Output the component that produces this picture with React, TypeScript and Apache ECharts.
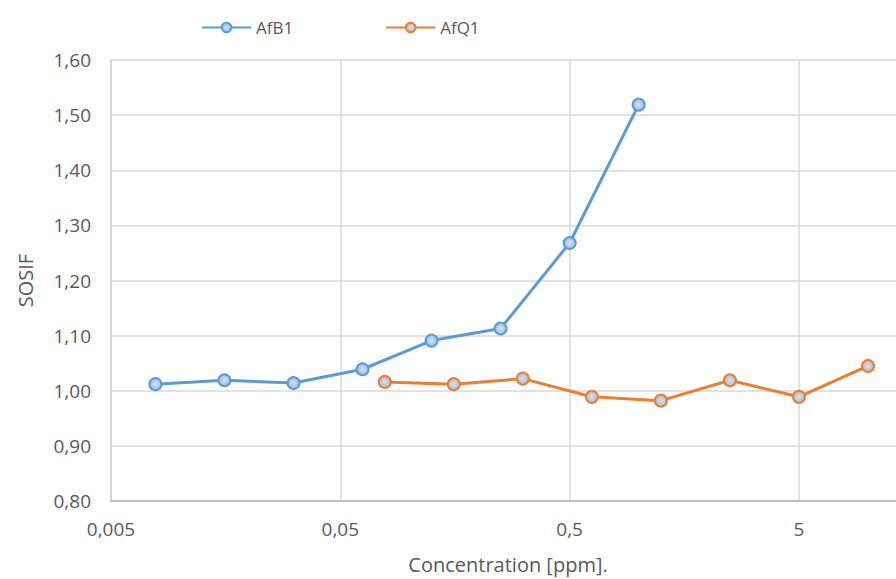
import React, { useEffect, useRef } from "react";
import * as echarts from "echarts";

// Concentration (ppm) and SOSIF values
const xAfB1 = [0.0078125, 0.015625, 0.03125, 0.0625, 0.125, 0.25, 0.5, 1];
const yAfB1 = [1.012, 1.019, 1.014, 1.039, 1.091, 1.113, 1.268, 1.519];
const xAfQ1 = [0.078125, 0.15625, 0.3125, 0.625, 1.25, 2.5, 5, 10];
const yAfQ1 = [1.016, 1.012, 1.022, 0.989, 0.982, 1.019, 0.989, 1.045];

// axis range: x starts at 0.005 ppm (log axis), y from 0.80 to 1.60
const X_ORIGIN = 0.005;
const X_END = 14.5;
const Y_MIN = 0.8;
const Y_MAX = 1.6;
const Y_STEP = 0.1;

const FONT = "'Open Sans', 'Noto Sans', sans-serif";
const TEXT = "#595959";

export default function App() {
  const ref = useRef<HTMLDivElement>(null);
  useEffect(() => {
    if (!ref.current) return;
    const chart = echarts.init(ref.current, undefined, { renderer: "svg" });
    // log axis counted in units of the origin so that decades fall on 0.005, 0.05, 0.5, 5
    const toAxis = (v: number) => v / X_ORIGIN;
    const blueMarker = new echarts.graphic.RadialGradient(0.5, 0.5, 0.6, [
      { offset: 0, color: "#D3E2F4" },
      { offset: 1, color: "#8EB4E2" },
    ]);
    const orangeMarker = new echarts.graphic.RadialGradient(0.5, 0.5, 0.6, [
      { offset: 0, color: "#D8E0EA" },
      { offset: 1, color: "#A7B3C2" },
    ]);
    chart.setOption({
      animation: false,
      backgroundColor: "#ffffff",
      textStyle: { fontFamily: FONT, color: TEXT },
      legend: {
        left: 196,
        top: 14,
        itemWidth: 49,
        itemHeight: 12,
        itemGap: 92,
        textStyle: { fontFamily: FONT, fontSize: 17, color: TEXT },
        data: ["AfB1", "AfQ1"],
      },
      grid: { left: 111, top: 60, right: 10, bottom: 78, containLabel: false },
      xAxis: {
        type: "log",
        logBase: 10,
        min: toAxis(X_ORIGIN),
        max: toAxis(X_END),
        name: "Concentration [ppm].",
        nameLocation: "middle",
        nameGap: 53,
        nameTextStyle: { fontFamily: FONT, fontSize: 20, color: TEXT },
        axisLine: { show: true, lineStyle: { color: "#BFBFBF", width: 2 } },
        axisTick: { show: false },
        splitLine: { show: true, lineStyle: { color: "#D9D9D9", width: 1.5 } },
        axisLabel: {
          fontFamily: FONT,
          fontSize: 19,
          color: TEXT,
          margin: 18,
          showMaxLabel: false,
          formatter: (v: number) => {
            const l = Math.log10(v);
            if (Math.abs(l - Math.round(l)) > 1e-6) return "";
            const real = Number((v * X_ORIGIN).toPrecision(6));
            return String(real).replace(".", ",");
          },
        },
      },
      yAxis: {
        type: "value",
        min: Y_MIN,
        max: Y_MAX,
        interval: Y_STEP,
        name: "SOSIF",
        nameLocation: "middle",
        nameGap: 76,
        nameTextStyle: { fontFamily: FONT, fontSize: 20, color: TEXT },
        axisLine: { show: true, lineStyle: { color: "#CFCFCF", width: 1.5 } },
        axisTick: { show: false },
        splitLine: { show: true, lineStyle: { color: "#D9D9D9", width: 1.5 } },
        axisLabel: {
          fontFamily: FONT,
          fontSize: 19,
          color: TEXT,
          margin: 20,
          formatter: (v: number) => v.toFixed(2).replace(".", ","),
        },
      },
      series: [
        {
          name: "AfB1",
          type: "line",
          data: xAfB1.map((x, i) => [toAxis(x), yAfB1[i]]),
          symbol: "circle",
          symbolSize: 12,
          lineStyle: { color: "#5B9BD5", width: 3 },
          itemStyle: { color: blueMarker, borderColor: "#5B9BD5", borderWidth: 2 },
          z: 3,
        },
        {
          name: "AfQ1",
          type: "line",
          data: xAfQ1.map((x, i) => [toAxis(x), yAfQ1[i]]),
          symbol: "circle",
          symbolSize: 12,
          lineStyle: { color: "#ED7D31", width: 3 },
          itemStyle: { color: orangeMarker, borderColor: "#ED7D31", borderWidth: 2 },
          z: 2,
        },
      ],
    });
    return () => chart.dispose();
  }, []);
  return (
    <div
      ref={ref}
      style={{ position: "fixed", left: 0, top: 0, width: 915, height: 579, background: "#fff" }}
    />
  );
}
